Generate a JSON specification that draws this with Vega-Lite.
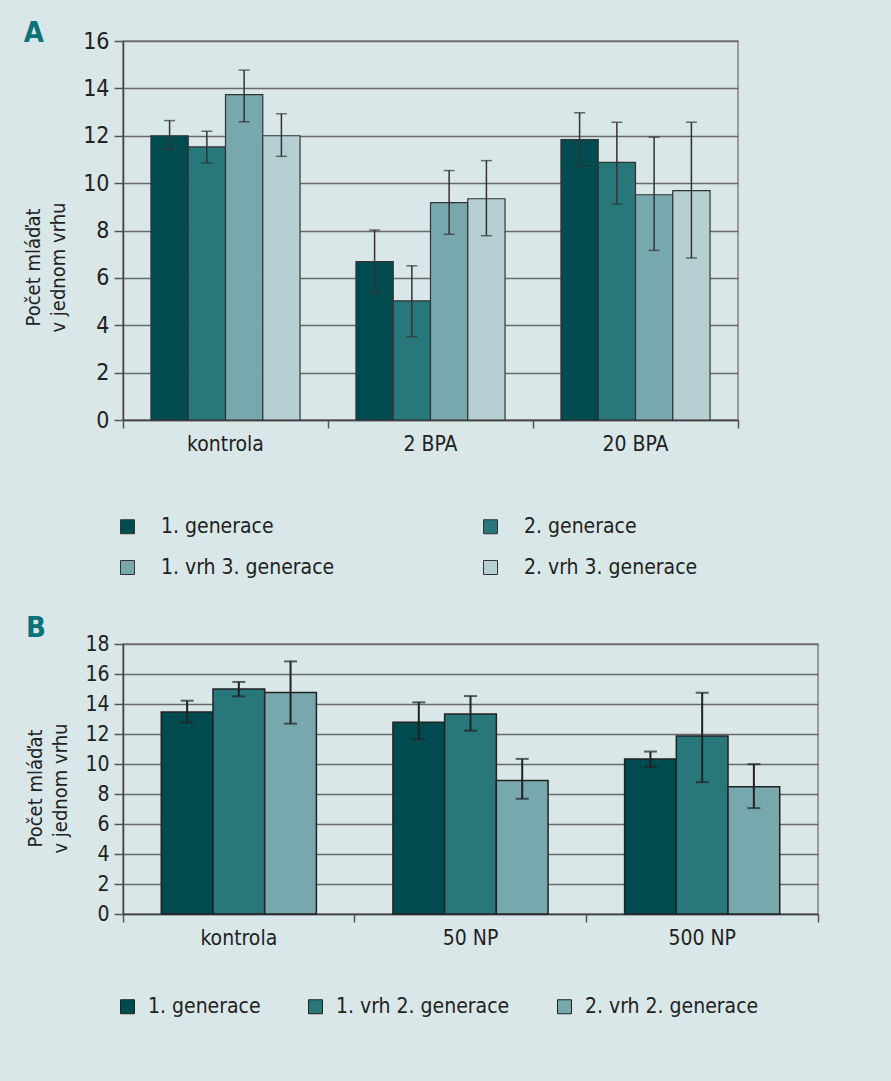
{
  "$schema": "https://vega.github.io/schema/vega-lite/v6.json",
  "background": "#d9e7e8",
  "padding": {"left": 22, "top": 18, "right": 74, "bottom": 63},
  "spacing": 34,
  "resolve": {"scale": {"color": "independent", "xOffset": "independent", "y": "independent", "x": "independent"}, "legend": {"color": "independent"}},
  "config": {
    "font": "DejaVu Sans Condensed",
    "view": {"stroke": "#858585", "strokeWidth": 1.5},
    "axis": {"labelColor": "#222", "titleColor": "#222", "domainColor": "#444", "domainWidth": 1.5, "tickColor": "#555", "tickWidth": 1.5, "labelOverlap": false},
    "legend": {"labelColor": "#222", "padding": 0}
  },
  "vconcat": [
    {
      "title": {"text": "A", "anchor": "start", "frame": "bounds", "fontSize": 29, "fontWeight": "bold", "color": "#0d7278", "dy": 22},
      "width": 615,
      "height": 379,
      "data": {"values": [
        {"group": "kontrola", "series": "1. generace", "value": 12.0, "lo": 11.42, "hi": 12.64},
        {"group": "kontrola", "series": "2. generace", "value": 11.53, "lo": 10.85, "hi": 12.19},
        {"group": "kontrola", "series": "1. vrh 3. generace", "value": 13.74, "lo": 12.59, "hi": 14.77},
        {"group": "kontrola", "series": "2. vrh 3. generace", "value": 12.0, "lo": 11.13, "hi": 12.93},
        {"group": "2 BPA", "series": "1. generace", "value": 6.69, "lo": 5.34, "hi": 8.02},
        {"group": "2 BPA", "series": "2. generace", "value": 5.03, "lo": 3.52, "hi": 6.51},
        {"group": "2 BPA", "series": "1. vrh 3. generace", "value": 9.18, "lo": 7.84, "hi": 10.53},
        {"group": "2 BPA", "series": "2. vrh 3. generace", "value": 9.34, "lo": 7.78, "hi": 10.95},
        {"group": "20 BPA", "series": "1. generace", "value": 11.84, "lo": 10.71, "hi": 12.97},
        {"group": "20 BPA", "series": "2. generace", "value": 10.88, "lo": 9.12, "hi": 12.57},
        {"group": "20 BPA", "series": "1. vrh 3. generace", "value": 9.51, "lo": 7.16, "hi": 11.94},
        {"group": "20 BPA", "series": "2. vrh 3. generace", "value": 9.68, "lo": 6.84, "hi": 12.57}
      ]},
      "encoding": {
        "x": {"field": "group", "type": "nominal", "sort": ["kontrola", "2 BPA", "20 BPA"],
              "scale": {"paddingInner": 0, "paddingOuter": 0},
              "axis": {"title": null, "labelAngle": 0, "labelFontSize": 21, "labelPadding": 5, "tickSize": 8, "bandPosition": 1, "tickExtra": true}},
        "xOffset": {"field": "series", "type": "nominal", "sort": ["1. generace", "2. generace", "1. vrh 3. generace", "2. vrh 3. generace"],
                    "scale": {"paddingInner": 0, "paddingOuter": 0.75}}
      },
      "layer": [
        {
          "mark": {"type": "bar", "stroke": "#333", "strokeWidth": 1.2},
          "encoding": {
            "y": {"field": "value", "type": "quantitative", "scale": {"domain": [0, 16], "nice": false},
                  "axis": {"title": ["Počet mláďat", "v jednom vrhu"], "titleFontSize": 20, "titleFontWeight": "normal", "titleLineHeight": 25, "titlePadding": 14, "titleY": 226,
                           "labelFontSize": 23, "labelPadding": 5, "tickSize": 9, "grid": true, "gridColor": "#6a6a6a", "gridWidth": 1.5, "labelOverlap": false,
                           "values": [0, 2, 4, 6, 8, 10, 12, 14, 16]}},
            "color": {"field": "series", "type": "nominal",
                      "scale": {"domain": ["1. generace", "2. generace", "1. vrh 3. generace", "2. vrh 3. generace"], "range": ["#004b50", "#27777b", "#77a8ae", "#b5cfd3"]},
                      "legend": {"title": null, "orient": "none", "direction": "horizontal", "legendX": -6, "legendY": 475, "columns": 2, "columnPadding": 145, "rowPadding": 19, "gridAlign": "each", "labelLimit": 400,
                                 "symbolType": "square", "symbolSize": 196, "symbolStrokeColor": "#333", "symbolStrokeWidth": 1, "labelFontSize": 21, "labelOffset": 23}}
          }
        },
        {
          "mark": {"type": "rule", "color": "#333", "strokeWidth": 1.5},
          "encoding": {"y": {"field": "lo", "type": "quantitative",
                  "axis": {"title": ["Počet mláďat", "v jednom vrhu"], "titleFontSize": 20, "titleFontWeight": "normal", "titleLineHeight": 25, "titlePadding": 14, "titleY": 226,
                           "labelFontSize": 23, "labelPadding": 5, "tickSize": 9, "grid": true, "gridColor": "#6a6a6a", "gridWidth": 1.5, "labelOverlap": false,
                           "values": [0, 2, 4, 6, 8, 10, 12, 14, 16]}}, "y2": {"field": "hi"}}
        },
        {
          "mark": {"type": "tick", "color": "#333", "thickness": 1.5, "size": 11},
          "encoding": {"y": {"field": "lo", "type": "quantitative",
                  "axis": {"title": ["Počet mláďat", "v jednom vrhu"], "titleFontSize": 20, "titleFontWeight": "normal", "titleLineHeight": 25, "titlePadding": 14, "titleY": 226,
                           "labelFontSize": 23, "labelPadding": 5, "tickSize": 9, "grid": true, "gridColor": "#6a6a6a", "gridWidth": 1.5, "labelOverlap": false,
                           "values": [0, 2, 4, 6, 8, 10, 12, 14, 16]}}}
        },
        {
          "mark": {"type": "tick", "color": "#333", "thickness": 1.5, "size": 11},
          "encoding": {"y": {"field": "hi", "type": "quantitative",
                  "axis": {"title": ["Počet mláďat", "v jednom vrhu"], "titleFontSize": 20, "titleFontWeight": "normal", "titleLineHeight": 25, "titlePadding": 14, "titleY": 226,
                           "labelFontSize": 23, "labelPadding": 5, "tickSize": 9, "grid": true, "gridColor": "#6a6a6a", "gridWidth": 1.5, "labelOverlap": false,
                           "values": [0, 2, 4, 6, 8, 10, 12, 14, 16]}}}
        }
      ]
    },
    {
      "title": {"text": "B", "anchor": "start", "frame": "bounds", "fontSize": 29, "fontWeight": "bold", "color": "#0d7278", "dy": 14},
      "width": 695,
      "height": 270,
      "data": {"values": [
        {"group": "kontrola", "series": "1. generace", "value": 13.47, "lo": 12.76, "hi": 14.22},
        {"group": "kontrola", "series": "1. vrh 2. generace", "value": 15.0, "lo": 14.51, "hi": 15.47},
        {"group": "kontrola", "series": "2. vrh 2. generace", "value": 14.76, "lo": 12.69, "hi": 16.84},
        {"group": "50 NP", "series": "1. generace", "value": 12.78, "lo": 11.65, "hi": 14.11},
        {"group": "50 NP", "series": "1. vrh 2. generace", "value": 13.34, "lo": 12.22, "hi": 14.53},
        {"group": "50 NP", "series": "2. vrh 2. generace", "value": 8.9, "lo": 7.68, "hi": 10.34},
        {"group": "500 NP", "series": "1. generace", "value": 10.34, "lo": 9.79, "hi": 10.83},
        {"group": "500 NP", "series": "1. vrh 2. generace", "value": 11.87, "lo": 8.79, "hi": 14.75},
        {"group": "500 NP", "series": "2. vrh 2. generace", "value": 8.48, "lo": 7.06, "hi": 9.99}
      ]},
      "encoding": {
        "x": {"field": "group", "type": "nominal", "sort": ["kontrola", "50 NP", "500 NP"],
              "scale": {"paddingInner": 0, "paddingOuter": 0},
              "axis": {"title": null, "labelAngle": 0, "labelFontSize": 21, "labelPadding": 5, "tickSize": 8, "bandPosition": 1, "tickExtra": true}},
        "xOffset": {"field": "series", "type": "nominal", "sort": ["1. generace", "1. vrh 2. generace", "2. vrh 2. generace"],
                    "scale": {"paddingInner": 0, "paddingOuter": 0.74}}
      },
      "layer": [
        {
          "mark": {"type": "bar", "stroke": "#222", "strokeWidth": 1.5},
          "encoding": {
            "y": {"field": "value", "type": "quantitative", "scale": {"domain": [0, 18], "nice": false},
                  "axis": {"title": ["Počet mláďat", "v jednom vrhu"], "titleFontSize": 20, "titleFontWeight": "normal", "titleLineHeight": 25, "titlePadding": 14, "titleY": 144,
                           "labelFontSize": 21, "labelPadding": 5, "tickSize": 9, "grid": true, "gridColor": "#6a6a6a", "gridWidth": 1.5, "labelOverlap": false, "labelFlush": false,
                           "values": [0, 2, 4, 6, 8, 10, 12, 14, 16, 18]}},
            "color": {"field": "series", "type": "nominal",
                      "scale": {"domain": ["1. generace", "1. vrh 2. generace", "2. vrh 2. generace"], "range": ["#004b50", "#27777b", "#77a8ae"]},
                      "legend": {"title": null, "orient": "none", "direction": "horizontal", "legendX": -6, "legendY": 352, "columns": 3, "columnPadding": 44, "gridAlign": "each", "labelLimit": 400,
                                 "symbolType": "square", "symbolSize": 196, "symbolStrokeColor": "#222", "symbolStrokeWidth": 1, "labelFontSize": 21, "labelOffset": 10}}
          }
        },
        {
          "mark": {"type": "rule", "color": "#222", "strokeWidth": 2},
          "encoding": {"y": {"field": "lo", "type": "quantitative",
                  "axis": {"title": ["Počet mláďat", "v jednom vrhu"], "titleFontSize": 20, "titleFontWeight": "normal", "titleLineHeight": 25, "titlePadding": 14, "titleY": 144,
                           "labelFontSize": 21, "labelPadding": 5, "tickSize": 9, "grid": true, "gridColor": "#6a6a6a", "gridWidth": 1.5, "labelOverlap": false, "labelFlush": false,
                           "values": [0, 2, 4, 6, 8, 10, 12, 14, 16, 18]}}, "y2": {"field": "hi"}}
        },
        {
          "mark": {"type": "tick", "color": "#222", "thickness": 2, "size": 13},
          "encoding": {"y": {"field": "lo", "type": "quantitative",
                  "axis": {"title": ["Počet mláďat", "v jednom vrhu"], "titleFontSize": 20, "titleFontWeight": "normal", "titleLineHeight": 25, "titlePadding": 14, "titleY": 144,
                           "labelFontSize": 21, "labelPadding": 5, "tickSize": 9, "grid": true, "gridColor": "#6a6a6a", "gridWidth": 1.5, "labelOverlap": false, "labelFlush": false,
                           "values": [0, 2, 4, 6, 8, 10, 12, 14, 16, 18]}}}
        },
        {
          "mark": {"type": "tick", "color": "#222", "thickness": 2, "size": 13},
          "encoding": {"y": {"field": "hi", "type": "quantitative",
                  "axis": {"title": ["Počet mláďat", "v jednom vrhu"], "titleFontSize": 20, "titleFontWeight": "normal", "titleLineHeight": 25, "titlePadding": 14, "titleY": 144,
                           "labelFontSize": 21, "labelPadding": 5, "tickSize": 9, "grid": true, "gridColor": "#6a6a6a", "gridWidth": 1.5, "labelOverlap": false, "labelFlush": false,
                           "values": [0, 2, 4, 6, 8, 10, 12, 14, 16, 18]}}}
        }
      ]
    }
  ]
}
